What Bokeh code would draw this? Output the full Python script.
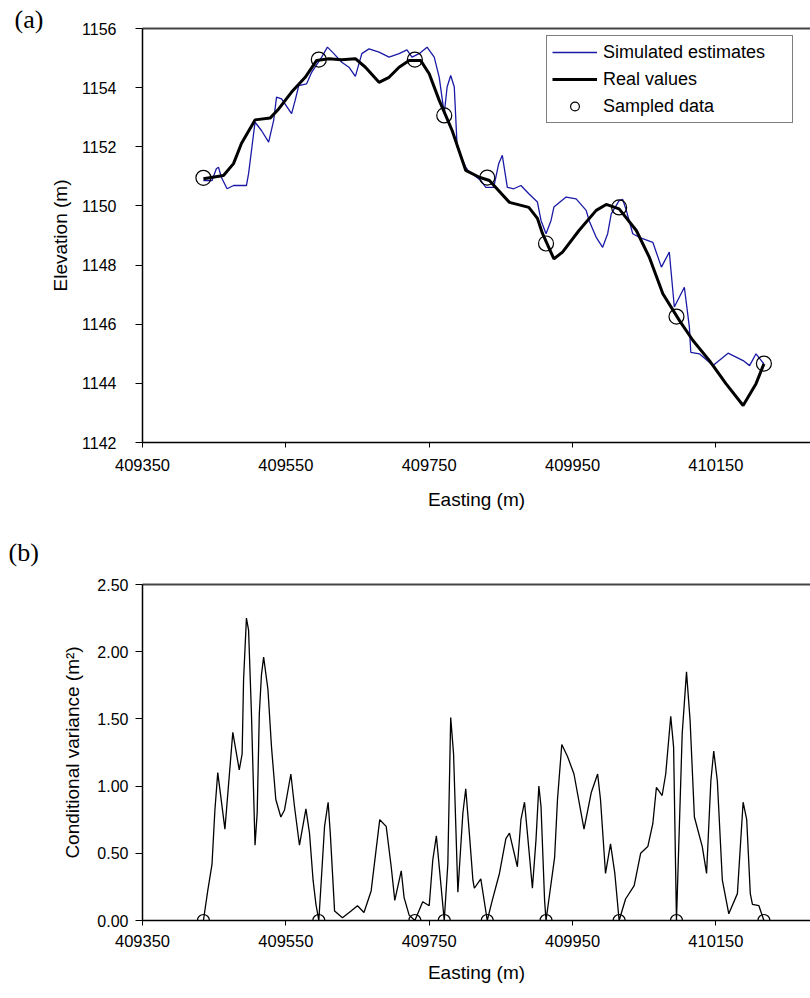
from bokeh.plotting import figure
from bokeh.layouts import column
from bokeh.models import (Range1d, FixedTicker, PrintfTickFormatter, LinearAxis,
                          Legend, LegendItem)
from bokeh.embed import file_html
from bokeh.resources import INLINE

# ---------------- data ----------------
sample_x = [409435, 409596, 409730, 409771, 409831, 409913, 410015, 410095, 410217]
sample_elev = [1150.95, 1154.95, 1154.95, 1153.06, 1150.96, 1148.73, 1149.95, 1146.26, 1144.67]
sample_var = [0.0, 0.0, 0.0, 0.0, 0.0, 0.0, 0.0, 0.0, 0.0]

real_x = [409435, 409463, 409477, 409488, 409507, 409528, 409540, 409558, 409577, 409593,
          409610, 409628, 409647, 409661, 409680, 409694, 409708, 409722, 409738, 409750,
          409764, 409773, 409782, 409801, 409820, 409834, 409862, 409889, 409901, 409908,
          409924, 409936, 409959, 409983, 409997, 410015, 410039, 410057, 410076, 410099,
          410118, 410141, 410164, 410188, 410206, 410217]
real_elev = [1150.92, 1151.03, 1151.43, 1152.11, 1152.91, 1152.97, 1153.28, 1153.85, 1154.35, 1154.92,
             1154.98, 1154.94, 1154.98, 1154.69, 1154.18, 1154.35, 1154.69, 1154.92, 1154.92, 1154.47,
             1153.57, 1153.06, 1152.55, 1151.20, 1150.97, 1150.86, 1150.12, 1149.95, 1149.58, 1149.07,
             1148.21, 1148.44, 1149.17, 1149.85, 1150.05, 1149.90, 1149.17, 1148.27, 1147.03, 1146.13,
             1145.45, 1144.77, 1143.99, 1143.25, 1143.99, 1144.66]

sim_x = [409435, 409447, 409453, 409456, 409460, 409468, 409477, 409495, 409498, 409507,
         409516, 409526, 409533, 409537, 409544, 409558, 409563, 409568, 409579, 409586,
         409600, 409608, 409617, 409628, 409638, 409647, 409656, 409666, 409680, 409694,
         409708, 409719, 409726, 409736, 409747, 409757, 409764, 409771, 409775, 409780,
         409785, 409789, 409801, 409804, 409822, 409829, 409840, 409847, 409852, 409859,
         409868, 409878, 409889, 409901, 409906, 409913, 409920, 409924, 409941, 409955,
         409969, 409973, 409983, 409992, 409999, 410004, 410015, 410020, 410025, 410034,
         410043, 410062, 410074, 410085, 410092, 410106, 410113, 410115, 410127, 410146,
         410167, 410188, 410197, 410206, 410217]
sim_elev = [1150.86, 1150.86, 1151.26, 1151.31, 1150.97, 1150.58, 1150.69, 1150.69, 1151.09, 1152.83,
            1152.55, 1152.16, 1152.89, 1153.68, 1153.62, 1153.12, 1153.57, 1154.07, 1154.13, 1154.52,
            1155.03, 1155.37, 1155.15, 1154.86, 1154.69, 1154.38, 1155.15, 1155.31, 1155.20, 1155.03,
            1155.15, 1155.28, 1155.03, 1155.15, 1155.37, 1155.03, 1154.35, 1153.12, 1154.02, 1154.41,
            1154.02, 1151.99, 1151.31, 1151.20, 1150.86, 1150.63, 1150.63, 1151.43, 1151.71, 1150.63,
            1150.58, 1150.69, 1150.41, 1150.13, 1149.51, 1149.06, 1149.51, 1149.96, 1150.30, 1150.24,
            1149.85, 1149.51, 1148.94, 1148.60, 1149.06, 1149.73, 1150.18, 1150.22, 1149.85, 1149.06,
            1148.94, 1148.77, 1147.93, 1148.44, 1146.58, 1147.25, 1145.90, 1145.05, 1145.00, 1144.60,
            1145.02, 1144.77, 1144.60, 1145.00, 1144.66]

var_x = [409435, 409441, 409447, 409451, 409455, 409465, 409476, 409485, 409489, 409491,
         409495, 409498, 409502, 409507, 409510, 409513, 409516, 409519, 409525, 409530,
         409536, 409543, 409548, 409557, 409562, 409569, 409578, 409583, 409588, 409592,
         409596, 409604, 409609, 409612, 409618, 409629, 409641, 409650, 409659, 409669,
         409681, 409690, 409697, 409702, 409711, 409715, 409722, 409730, 409741, 409750,
         409755, 409760, 409771, 409776, 409780, 409784, 409790, 409797, 409801, 409806,
         409811, 409813, 409822, 409831, 409838, 409848, 409857, 409862, 409873, 409878,
         409883, 409887, 409894, 409899, 409903, 409906, 409911, 409913, 409925, 409929,
         409935, 409943, 409952, 409966, 409976, 409985, 409989, 409996, 410003, 410009,
         410015, 410024, 410036, 410045, 410055, 410062, 410067, 410075, 410080, 410087,
         410091, 410095, 410103, 410109, 410114, 410120, 410131, 410137, 410143, 410147,
         410152, 410159, 410168, 410180, 410188, 410193, 410198, 410201, 410210, 410217]
var_val = [0.00, 0.22, 0.42, 0.82, 1.10, 0.68, 1.40, 1.12, 1.24, 1.79,
           2.25, 2.16, 1.54, 0.56, 0.80, 1.54, 1.83, 1.96, 1.72, 1.29,
           0.90, 0.77, 0.82, 1.09, 0.85, 0.56, 0.83, 0.65, 0.30, 0.12,
           0.00, 0.70, 0.88, 0.65, 0.07, 0.02, 0.07, 0.11, 0.06, 0.22,
           0.75, 0.70, 0.40, 0.15, 0.37, 0.17, 0.04, 0.00, 0.14, 0.11,
           0.45, 0.63, 0.00, 0.42, 1.51, 1.24, 0.21, 0.80, 0.98, 0.65,
           0.30, 0.24, 0.31, 0.00, 0.15, 0.35, 0.61, 0.65, 0.40, 0.75,
           0.88, 0.65, 0.24, 0.60, 1.00, 0.85, 0.15, 0.00, 0.47, 0.90,
           1.31, 1.22, 1.09, 0.68, 0.95, 1.09, 0.90, 0.35, 0.57, 0.35,
           0.00, 0.16, 0.26, 0.50, 0.55, 0.72, 0.99, 0.93, 1.09, 1.52,
           1.29, 0.00, 1.39, 1.85, 1.49, 0.77, 0.55, 0.35, 1.04, 1.26,
           1.04, 0.30, 0.05, 0.20, 0.88, 0.75, 0.20, 0.12, 0.11, 0.00]

x_ticks = [409350, 409550, 409750, 409950, 410150]
elev_ticks = [1142, 1144, 1146, 1148, 1150, 1152, 1154, 1156]
var_ticks = [0.0, 0.5, 1.0, 1.5, 2.0, 2.5]

FONT = "Liberation Sans"
X_END = 410282


def style(p, xt, yt, yfmt, y_standoff, y_tick_out, xlab_standoff, x_title_standoff, y_title_standoff):
    p.xgrid.visible = False
    p.ygrid.visible = False
    p.outline_line_color = None
    p.background_fill_color = "white"
    p.border_fill_color = "white"
    for ax in (p.xaxis[0], p.yaxis[0]):
        ax.axis_line_color = "black"
        ax.axis_line_width = 1.5
        ax.major_tick_line_color = "black"
        ax.major_tick_in = 0
        ax.minor_tick_line_color = None
        ax.major_label_text_font = FONT
        ax.major_label_text_font_size = "16px"
        ax.major_label_text_color = "black"
        ax.axis_label_text_font = FONT
        ax.axis_label_text_font_size = "19px"
        ax.axis_label_text_font_style = "normal"
        ax.axis_label_text_color = "black"
    p.xaxis[0].ticker = FixedTicker(ticks=xt)
    p.xaxis[0].formatter = PrintfTickFormatter(format="%d")
    p.xaxis[0].major_tick_out = 5
    p.xaxis[0].major_label_standoff = xlab_standoff
    p.xaxis[0].major_label_text_font_size = "16.5px"
    p.xaxis[0].axis_label = "Easting (m)"
    p.xaxis[0].axis_label_standoff = x_title_standoff
    p.yaxis[0].ticker = FixedTicker(ticks=yt)
    p.yaxis[0].formatter = PrintfTickFormatter(format=yfmt)
    p.yaxis[0].major_tick_out = y_tick_out
    p.yaxis[0].major_label_standoff = y_standoff
    p.yaxis[0].axis_label_standoff = y_title_standoff
    top = LinearAxis(ticker=FixedTicker(ticks=[]), axis_line_color="#444444", axis_line_width=2,
                     major_tick_line_color=None, minor_tick_line_color=None,
                     major_tick_out=0, major_label_standoff=0,
                     major_label_text_font_size="0px")
    p.add_layout(top, "above")


def panel_title(p, text, offset, standoff):
    p.title.text = text
    p.title.align = "left"
    p.title.offset = offset
    p.title.standoff = standoff
    p.title.text_font = "Liberation Serif"
    p.title.text_font_size = "26px"
    p.title.text_font_style = "normal"
    p.title.text_color = "black"


# ---------------- (a) ----------------
p1 = figure(width=810, height=515, x_range=Range1d(409350, X_END), y_range=Range1d(1142, 1156),
            output_backend="svg", toolbar_location=None,
            min_border_left=142, min_border_right=0, min_border_top=28, min_border_bottom=73)
style(p1, x_ticks, elev_ticks, "%d", 19, 7, 11, 15, 8)
p1.yaxis[0].axis_label = "Elevation (m)"
panel_title(p1, "(a)", -128, -11)

r_sim = p1.line(sim_x, sim_elev, line_color="#1a1aa6", line_width=1.3)
r_real = p1.line(real_x, real_elev, line_color="black", line_width=3)
r_samp = p1.scatter(sample_x, sample_elev, marker="circle", size=15, fill_color=None,
                    line_color="black", line_width=1.2)

legend = Legend(items=[LegendItem(label="Simulated estimates", renderers=[r_sim]),
                       LegendItem(label="Real values", renderers=[r_real]),
                       LegendItem(label="Sampled data", renderers=[r_samp])],
                location=(404, 319), padding=5, spacing=5, margin=0,
                glyph_width=45, glyph_height=22, label_height=22, label_width=184,
                label_standoff=6, label_text_font=FONT, label_text_font_size="18px",
                label_text_color="black", border_line_color="black", border_line_width=1,
                background_fill_color="white", background_fill_alpha=1)
p1.add_layout(legend, "center")

# ---------------- (b) ----------------
p2 = figure(width=810, height=483, x_range=Range1d(409350, X_END), y_range=Range1d(0, 2.5),
            output_backend="svg", toolbar_location=None,
            min_border_left=142, min_border_right=0, min_border_top=69, min_border_bottom=78)
style(p2, x_ticks, var_ticks, "%.2f", 7, 7, 9, 12, 11)
p2.yaxis[0].axis_label = "Conditional variance (m²)"
panel_title(p2, "(b)", -134, 35)

p2.line(var_x, var_val, line_color="black", line_width=1.3)
p2.scatter(sample_x, sample_var, marker="circle", size=12, fill_color=None,
           line_color="black", line_width=1.2)

layout = column(p1, p2, spacing=0)
open("out.html", "w").write(file_html(layout, INLINE))
